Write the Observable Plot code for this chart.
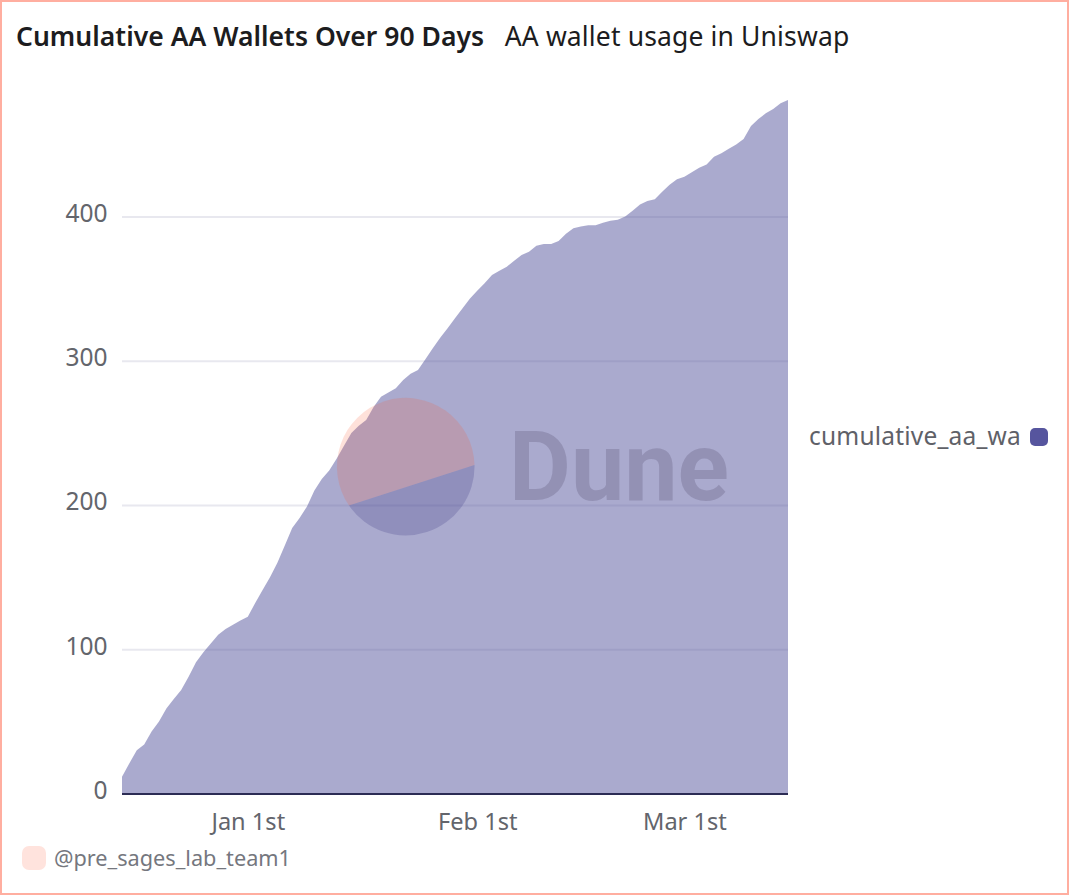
<!DOCTYPE html>
<html>
<head>
<meta charset="utf-8">
<script src="https://cdn.jsdelivr.net/npm/d3@7"></script>
<script src="https://cdn.jsdelivr.net/npm/@observablehq/plot@0.6"></script>
<style>
html,body{margin:0;padding:0;background:#fff;}
#frame{position:relative;width:1069px;height:895px;box-sizing:border-box;border:2px solid #ffaea0;overflow:hidden;font-family:"Noto Sans",sans-serif;}
#head{position:absolute;left:14px;top:15px;white-space:nowrap;font-size:26.5px;line-height:38px;color:#1c1c20;}
#head b{font-weight:600;margin-right:20.5px;letter-spacing:0.03px;}
#head span{letter-spacing:0.14px;}
#chart{position:absolute;left:-2px;top:58px;width:1069px;height:780px;}
#chart svg{background:transparent;display:block;max-width:none;}
#mark{position:absolute;left:-2px;top:-2px;pointer-events:none;}
#legend{position:absolute;left:807px;top:417px;white-space:nowrap;font-size:24.5px;line-height:34px;letter-spacing:0.2px;color:#5f6168;}
#swatch{position:absolute;left:1028px;top:426px;width:18px;height:18px;border-radius:5px;background:#56559e;}
#capbox{position:absolute;left:20px;top:844px;width:24px;height:24px;border-radius:7px;background:#ffe3dd;}
#caption{position:absolute;left:52px;top:840px;white-space:nowrap;font-size:21.7px;line-height:32px;color:#75777e;}
</style>
</head>
<body>
<div id="frame">
  <div id="head"><b>Cumulative AA Wallets Over 90 Days</b><span>AA wallet usage in Uniswap</span></div>
  <div id="chart"></div>
  <svg id="mark" width="1069" height="895">
    <path d="M349 505.6 A68.8 68.8 0 1 1 474.5 465 Z" fill="#f85730" fill-opacity="0.18"/>
    <path d="M349 505.6 L474.5 465 A68.8 68.8 0 0 1 349 505.6 Z" fill="#1e1870" fill-opacity="0.18"/>
    <text x="509" y="500" font-family="Roboto" font-weight="700" font-size="96" fill="#2d2440" fill-opacity="0.18" textLength="220" lengthAdjust="spacingAndGlyphs">Dune</text>
  </svg>
  <div id="legend">cumulative_aa_wa</div>
  <div id="swatch"></div>
  <div id="capbox"></div>
  <div id="caption">@pre_sages_lab_team1</div>
</div>
<script>
const startDate = "2024-12-15";
const cumulativeAaWallets = [
  11.6,21,30,34,43,50,59,65.5,71.7,81,
  91,98,104,110,114,117,120,122.6,132,141,
  150,160,172,184,191,199,210,218,224,232,
  241,250,255,259,268,275,278,281,286.6,291,
  293.6,301,308.6,316,322.5,329.4,336.3,343,348.6,353.7,
  359.4,362.4,365.2,369.4,373.3,375.6,379.8,381,381,383,
  388,391.8,393,394,394,395.7,397,397.8,400,404,
  408.4,410.7,412,417.2,422,425.8,427.6,430.6,433.8,436,
  441.5,443.8,447,450,453.7,462.7,467.6,471.5,474.5,478.5,
  480.7
];
const yTicks = [0,100,200,300,400];
const gridTicks = [100,200,300,400];
const xTickDates = ["2025-01-01","2025-02-01","2025-03-01"];
const xTickLabels = ["Jan 1st","Feb 1st","Mar 1st"];

const start = new Date(startDate + "T00:00:00Z");
const rows = cumulativeAaWallets.map((v,i)=>({date:d3.utcDay.offset(start,i),value:v}));
const xt = xTickDates.map(d=>new Date(d+"T00:00:00Z"));

const plot = Plot.plot({
  width:1069,
  height:780,
  marginLeft:122,
  marginRight:281,
  marginTop:12.25,
  marginBottom:46.5,
  style:{fontFamily:'"Noto Sans",sans-serif',fontSize:"24.5px",color:"#63656c",background:"transparent"},
  x:{type:"utc",domain:[rows[0].date,rows[rows.length-1].date]},
  y:{domain:[0,500]},
  marks:[
    Plot.ruleY(gridTicks,{stroke:"#e8e8ef",strokeWidth:2}),
    Plot.areaY(rows,{x:"date",y:"value",fill:"#56559e",fillOpacity:0.5,curve:"linear"}),
    Plot.ruleY([0],{stroke:"#2c2c54",strokeWidth:2}),
    Plot.axisY({ticks:yTicks,tickSize:0,tickPadding:15,label:null,dy:-3,tickFormat:d=>String(d),fontSize:24.5}),
    Plot.axisX({ticks:xt,tickSize:0,tickPadding:19,label:null,tickFormat:d=>xTickLabels[xt.findIndex(t=>+t===+d)],fontSize:23.6})
  ]
});
document.getElementById("chart").appendChild(plot);
</script>
</body>
</html>
